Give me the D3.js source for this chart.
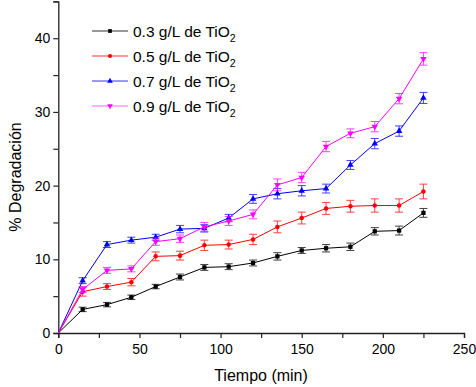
<!DOCTYPE html>
<html><head><meta charset="utf-8">
<script src="https://cdn.jsdelivr.net/npm/d3@7"></script>
<style>body{margin:0;background:#fff}svg{display:block}text{font-family:"Liberation Sans",Arial,sans-serif}</style>
</head><body><svg id="c" width="476" height="387"></svg>
<script>
const times = [0,15,30,45,60,75,90,105,120,135,150,165,180,195,210,225];
const seriesNames = ["0.3 g/L de TiO","0.5 g/L de TiO","0.7 g/L de TiO","0.9 g/L de TiO"];
const s03 = [0,3.2,3.85,4.85,6.3,7.6,8.9,9.0,9.5,10.4,11.2,11.5,11.7,13.8,13.9,16.3];
const s05 = [0,5.6,6.3,6.9,10.4,10.5,11.9,12.0,12.7,14.4,15.6,16.9,17.2,17.3,17.3,19.2];
const s07 = [0,7.1,12.0,12.6,13.0,14.1,14.2,15.6,18.2,18.9,19.3,19.6,22.8,25.7,27.4,31.9];
const s09 = [0,5.9,8.5,8.7,12.4,12.8,14.4,15.2,16.1,20.1,21.1,25.3,27.1,28.0,31.8,37.2];
const e03 = [0,0.3,0.3,0.3,0.3,0.4,0.4,0.4,0.4,0.5,0.4,0.5,0.5,0.5,0.6,0.6];
const e05 = [0,0.6,0.4,0.5,0.6,0.6,0.7,0.6,0.7,0.8,0.8,0.8,0.8,0.9,0.9,1.0];
const e07 = [0,0.4,0.4,0.4,0.4,0.5,0.5,0.5,0.6,0.7,0.7,0.6,0.6,0.7,0.7,0.75];
const e09 = [0,0.4,0.4,0.4,0.5,0.5,0.6,0.6,0.6,0.8,0.7,0.7,0.6,0.7,0.7,0.85];
const xTicks = [0,50,100,150,200,250];
const yTicks = [0,10,20,30,40];
const colors = ["#000000","#ff0000","#0000ff","#ff00ff"];
const shapes = [d3.symbolSquare,d3.symbolCircle,d3.symbolTriangle,"down"];

const values=[s03,s05,s07,s09], errs=[e03,e05,e07,e09];
const svg=d3.select("#c");
const x=d3.scaleLinear().domain([0,250]).range([58.3,464]);
const y=d3.scaleLinear().domain([0,45]).range([333,1.4]);

// axes
const gx=svg.append("g").attr("transform","translate(0,333)");
gx.call(d3.axisBottom(x).tickValues(d3.range(0,251,25)).tickSize(5).tickFormat(d=>xTicks.includes(d)?d:""));
const gy=svg.append("g").attr("transform","translate(58.3,0)");
gy.call(d3.axisLeft(y).tickValues(d3.range(0,46,5)).tickSize(5).tickFormat(d=>yTicks.includes(d)?d:""));
[gx,gy].forEach(g=>{g.select(".domain").attr("stroke","#222").attr("stroke-width",1.3);
 g.selectAll(".tick line").attr("stroke","#222").attr("stroke-width",1.2);
 g.selectAll(".tick text").attr("font-size",14).attr("fill","#000").attr("font-family","'Liberation Sans',Arial,sans-serif");});
gx.selectAll(".tick text").attr("dy","0.95em");
gy.selectAll(".tick text").attr("x",-8);
svg.append("text").attr("x",261).attr("y",381).attr("text-anchor","middle").attr("font-size",16).text("Tiempo (min)");
svg.append("text").attr("transform","translate(21,177) rotate(-90)").attr("text-anchor","middle").attr("font-size",16).text("% Degradación");

function sym(i,size){
  if(shapes[i]==="down") return d3.symbol().type(d3.symbolTriangle).size(size)();
  return d3.symbol().type(shapes[i]).size(size)();
}
const line=d3.line().x(d=>x(d[0])).y(d=>y(d[1]));
values.forEach((v,i)=>{
  const pts=times.map((t,j)=>[t,v[j],errs[i][j]]);
  const g=svg.append("g");
  g.append("path").attr("d",line(pts)).attr("fill","none").attr("stroke",colors[i]).attr("stroke-width",1);
  pts.slice(1).forEach(p=>{
    const cx=x(p[0]), y1=y(p[1]+p[2]), y2=y(p[1]-p[2]);
    const eg=g.append("g").attr("stroke",colors[i]).attr("stroke-width",1).attr("opacity",0.75);
    eg.append("line").attr("x1",cx).attr("x2",cx).attr("y1",y1).attr("y2",y2);
    eg.append("line").attr("x1",cx-4).attr("x2",cx+4).attr("y1",y1).attr("y2",y1);
    eg.append("line").attr("x1",cx-4).attr("x2",cx+4).attr("y1",y2).attr("y2",y2);
  });
  g.selectAll("path.m").data(pts.slice(1)).enter().append("path").attr("class","m")
   .attr("d",sym(i,i===1?16:18))
   .attr("transform",d=>`translate(${x(d[0])},${y(d[1])})${shapes[i]==="down"?" rotate(180)":""}`)
   .attr("fill",colors[i]);
});

// legend
const lg=svg.append("g");
seriesNames.forEach((n,i)=>{
  const yy=31+i*25;
  lg.append("line").attr("x1",92).attr("x2",128).attr("y1",yy).attr("y2",yy).attr("stroke",colors[i]).attr("stroke-width",1).attr("opacity",i===3?0.6:0.8);
  lg.append("path").attr("d",sym(i,i===1?14:14)).attr("transform",`translate(110,${yy})${shapes[i]==="down"?" rotate(180)":""}`).attr("fill",colors[i]);
  const t=lg.append("text").attr("x",133).attr("y",yy+5.5).attr("font-size",15.5).text(n);
  t.append("tspan").attr("font-size",10.5).attr("dy",5).text("2");
});
</script></body></html>
